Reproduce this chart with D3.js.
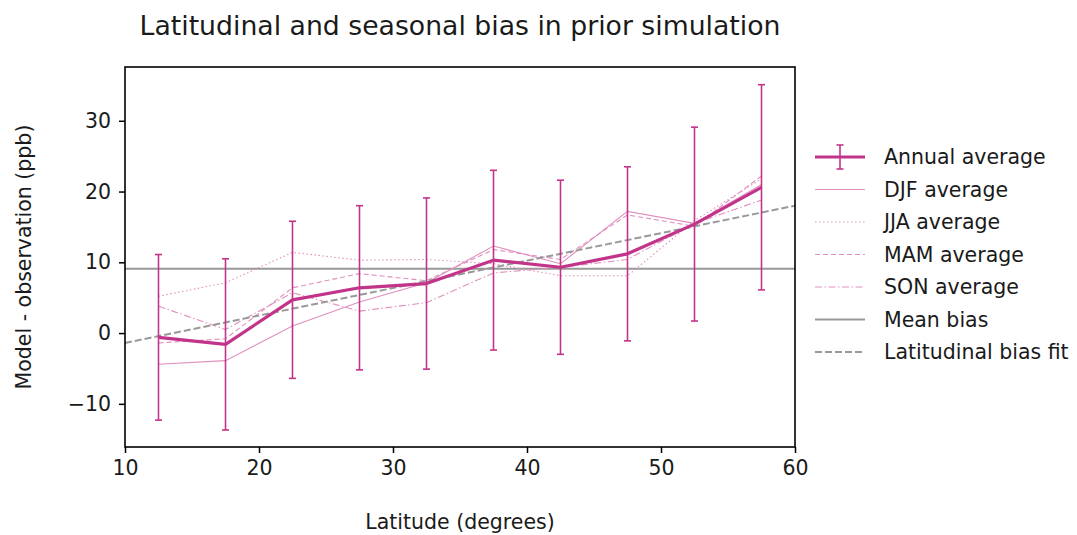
<!DOCTYPE html>
<html>
<head>
<meta charset="utf-8">
<script src="https://cdn.jsdelivr.net/npm/d3@7"></script>
<style>
  body { margin: 0; background: #fff; }
  text { font-family: "DejaVu Sans", sans-serif; fill: #1a1a1a; }
</style>
</head>
<body>
<div id="chart"></div>
<script>
// latitude bin centres (degrees)
var lat = [12.5, 17.5, 22.5, 27.5, 32.5, 37.5, 42.5, 47.5, 52.5, 57.5];
// model - observation (ppb)
var annual = [-0.6, -1.6, 4.7, 6.4, 7.0, 10.3, 9.3, 11.2, 15.4, 20.6];
var annualErr = [11.7, 12.1, 11.1, 11.6, 12.1, 12.7, 12.3, 12.3, 13.7, 14.5];
var djf = [-4.4, -3.9, 1.0, 4.4, 7.1, 12.3, 9.8, 17.2, 15.5, 21.0];
var jja = [5.2, 7.1, 11.4, 10.3, 10.4, 9.8, 8.1, 8.1, 15.9, 21.8];
var mam = [-1.4, -0.8, 6.4, 8.4, 7.4, 11.8, 10.4, 16.7, 15.1, 22.2];
var son = [3.8, 0.5, 5.7, 3.1, 4.3, 8.5, 9.3, 10.4, 15.5, 18.8];
var meanBias = 9.1;
var fitSlope = 0.388, fitIntercept = -5.28;
var xTicks = [10, 20, 30, 40, 50, 60];
var yTicks = [-10, 0, 10, 20, 30];
var legendLabels = ["Annual average", "DJF average", "JJA average", "MAM average",
                    "SON average", "Mean bias", "Latitudinal bias fit"];

var W = 1077, H = 535;
var m = {left: 125, right: 282, top: 67, bottom: 88};
var pink = "#c2348a", lightPink = "#e08fbf", grey = "#999999";

var svg = d3.select("#chart").append("svg")
    .attr("width", W).attr("height", H);

var x = d3.scaleLinear().domain([10, 60]).range([m.left, W - m.right]);
var y = d3.scaleLinear().domain([-16.1, 37.6]).range([H - m.bottom, m.top]);

// seasonal lines
var seasons = [
  {vals: djf, dash: null},
  {vals: jja, dash: "1.5,2.5"},
  {vals: mam, dash: "5,3"},
  {vals: son, dash: "7,2.5,1.5,2.5"}
];
var line = d3.line().x(function(d) { return x(d[0]); }).y(function(d) { return y(d[1]); });

// mean bias
svg.append("line")
  .attr("x1", x(10)).attr("x2", x(60))
  .attr("y1", y(meanBias)).attr("y2", y(meanBias))
  .attr("stroke", grey).attr("stroke-width", 2);

seasons.forEach(function(s) {
  svg.append("path")
    .attr("d", line(d3.zip(lat, s.vals)))
    .attr("fill", "none")
    .attr("stroke", lightPink)
    .attr("stroke-width", 1.1)
    .attr("stroke-dasharray", s.dash);
});

// fit line
svg.append("line")
  .attr("x1", x(10)).attr("x2", x(60))
  .attr("y1", y(fitIntercept + fitSlope * 10)).attr("y2", y(fitIntercept + fitSlope * 60))
  .attr("stroke", grey).attr("stroke-width", 2)
  .attr("stroke-dasharray", "7,3");

// error bars
var eb = svg.append("g");
lat.forEach(function(l, i) {
  var lo = y(annual[i] - annualErr[i]), hi = y(annual[i] + annualErr[i]), cx = x(l);
  eb.append("line").attr("x1", cx).attr("x2", cx).attr("y1", lo).attr("y2", hi)
    .attr("stroke", pink).attr("stroke-width", 1.6);
  [lo, hi].forEach(function(yy) {
    eb.append("line").attr("x1", cx - 3.5).attr("x2", cx + 3.5).attr("y1", yy).attr("y2", yy)
      .attr("stroke", pink).attr("stroke-width", 1.6);
  });
});

svg.append("path")
  .attr("d", line(d3.zip(lat, annual)))
  .attr("fill", "none")
  .attr("stroke", pink)
  .attr("stroke-width", 3.2)
  .attr("stroke-linejoin", "round");

// axes
var xAxis = svg.append("g")
  .attr("transform", "translate(0," + (H - m.bottom) + ")")
  .call(d3.axisBottom(x).tickValues(xTicks).tickSize(6).tickPadding(7));
var yAxis = svg.append("g")
  .attr("transform", "translate(" + m.left + ",0)")
  .call(d3.axisLeft(y).tickValues(yTicks).tickSize(6).tickPadding(8)
        .tickFormat(function(d) { return d < 0 ? "\u2212" + Math.abs(d) : d; }));
[xAxis, yAxis].forEach(function(a) {
  a.select(".domain").remove();
  a.selectAll("line").attr("stroke", "#000").attr("stroke-width", 1.5);
  a.selectAll("text").style("font-size", "20.5px").style("font-family", "DejaVu Sans").attr("fill", "#1a1a1a");
});

svg.append("rect")
  .attr("x", x(10)).attr("y", m.top)
  .attr("width", x(60) - x(10)).attr("height", H - m.bottom - m.top)
  .attr("fill", "none").attr("stroke", "#000").attr("stroke-width", 1.6);

// labels
svg.append("text").attr("x", (x(10) + x(60)) / 2).attr("y", 35)
  .attr("text-anchor", "middle").style("font-size", "26.7px")
  .text("Latitudinal and seasonal bias in prior simulation");
svg.append("text").attr("x", (x(10) + x(60)) / 2).attr("y", 529)
  .attr("text-anchor", "middle").style("font-size", "20.5px")
  .text("Latitude (degrees)");
svg.append("text")
  .attr("transform", "translate(31," + ((m.top + H - m.bottom) / 2) + ") rotate(-90)")
  .attr("text-anchor", "middle").style("font-size", "20.5px")
  .text("Model - observation (ppb)");

// legend
var lg = svg.append("g");
var lgStyles = [
  {c: pink, w: 3.2, dash: null},
  {c: lightPink, w: 1.1, dash: null},
  {c: lightPink, w: 1.1, dash: "1.5,2.5"},
  {c: lightPink, w: 1.1, dash: "5,3"},
  {c: lightPink, w: 1.1, dash: "7,2.5,1.5,2.5"},
  {c: grey, w: 2, dash: null},
  {c: grey, w: 2, dash: "7,3"}
];
legendLabels.forEach(function(t, i) {
  var yy = 157 + i * 32.5;
  var st = lgStyles[i];
  lg.append("line").attr("x1", 815).attr("x2", 865).attr("y1", yy).attr("y2", yy)
    .attr("stroke", st.c).attr("stroke-width", st.w).attr("stroke-dasharray", st.dash);
  if (i === 0) {
    lg.append("line").attr("x1", 840).attr("x2", 840).attr("y1", yy - 12).attr("y2", yy + 12)
      .attr("stroke", pink).attr("stroke-width", 1.6);
    [yy - 12, yy + 12].forEach(function(v) {
      lg.append("line").attr("x1", 836.5).attr("x2", 843.5).attr("y1", v).attr("y2", v)
        .attr("stroke", pink).attr("stroke-width", 1.6);
    });
  }
  lg.append("text").attr("x", 884).attr("y", yy + 7)
    .style("font-size", "20.5px").text(t);
});
</script>
</body>
</html>
